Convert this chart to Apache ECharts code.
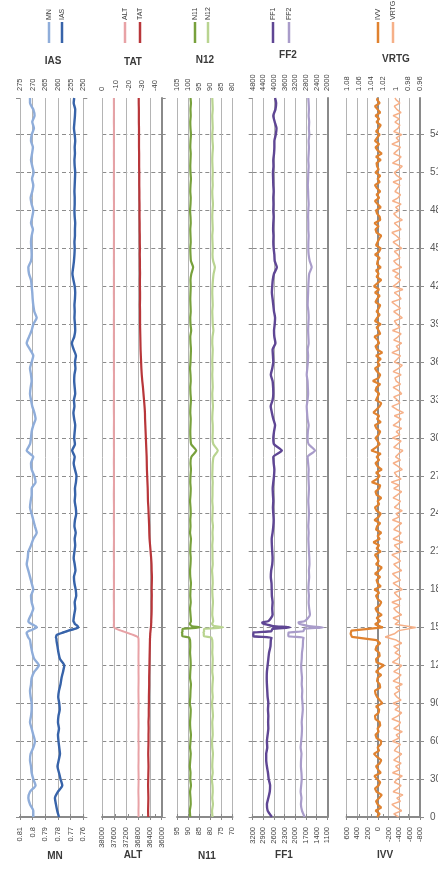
<!DOCTYPE html>
<html>
<head>
<meta charset="utf-8">
<script src="https://cdn.jsdelivr.net/npm/echarts@6/dist/echarts.min.js"></script>
<style>
  html, body { margin: 0; padding: 0; background: #ffffff; }
  #chart { width: 438px; height: 874px; }
</style>
</head>
<body>
<div id="chart"></div>
<script>
// Flight time of each sample (s) for the slower parameters
const TIME = [
  0, 50, 100, 150, 200, 250, 300, 350, 400, 450,
  500, 550, 600, 650, 700, 750, 800, 850, 900, 950,
  1000, 1050, 1100, 1150, 1200, 1250, 1300, 1350,
  1400, 1410, 1420, 1430, 1440, 1450, 1460, 1470, 1480, 1490, 1500, 1510, 1520, 1530, 1540, 1550,
  1600, 1650, 1700, 1750, 1800, 1850, 1900, 1950, 2000, 2050,
  2100, 2150, 2200, 2250, 2300, 2350, 2400, 2450, 2500, 2550,
  2600, 2650, 2700, 2750, 2800, 2850, 2900, 2950, 3000, 3050,
  3100, 3150, 3200, 3250, 3300, 3350, 3400, 3450, 3500, 3550,
  3600, 3650, 3700, 3750, 3800, 3850, 3900, 3950, 4000, 4050,
  4100, 4150, 4200, 4250, 4300, 4350, 4400, 4450, 4500, 4550,
  4600, 4650, 4700, 4750, 4800, 4850, 4900, 4950, 5000, 5050,
  5100, 5150, 5200, 5250, 5300, 5350, 5400, 5450, 5500, 5550,
  5600, 5650, 5690
];
// Flight time of each sample (s) for the fast vertical parameters
const TIME_FAST = [
  0, 25, 50, 75, 100, 125, 150, 175, 200, 225, 250, 275, 300, 325, 350, 375, 400, 425, 450, 475,
  500, 525, 550, 575, 600, 625, 650, 675, 700, 725, 750, 775, 800, 825, 850, 875, 900, 925, 950, 975,
  1000, 1025, 1050, 1075, 1100, 1125, 1150, 1175, 1200, 1225, 1250, 1275, 1300, 1325, 1350, 1375, 1400, 1425, 1450, 1475,
  1500, 1525, 1550, 1575, 1600, 1625, 1650, 1675, 1700, 1725, 1750, 1775, 1800, 1825, 1850, 1875, 1900, 1925, 1950, 1975,
  2000, 2025, 2050, 2075, 2100, 2125, 2150, 2175, 2200, 2225, 2250, 2275, 2300, 2325, 2350, 2375, 2400, 2425, 2450, 2475,
  2500, 2525, 2550, 2575, 2600, 2625, 2650, 2675, 2700, 2725, 2750, 2775, 2800, 2825, 2850, 2875, 2900, 2925, 2950, 2975,
  3000, 3025, 3050, 3075, 3100, 3125, 3150, 3175, 3200, 3225, 3250, 3275, 3300, 3325, 3350, 3375, 3400, 3425, 3450, 3475,
  3500, 3525, 3550, 3575, 3600, 3625, 3650, 3675, 3700, 3725, 3750, 3775, 3800, 3825, 3850, 3875, 3900, 3925, 3950, 3975,
  4000, 4025, 4050, 4075, 4100, 4125, 4150, 4175, 4200, 4225, 4250, 4275, 4300, 4325, 4350, 4375, 4400, 4425, 4450, 4475,
  4500, 4525, 4550, 4575, 4600, 4625, 4650, 4675, 4700, 4725, 4750, 4775, 4800, 4825, 4850, 4875, 4900, 4925, 4950, 4975,
  5000, 5025, 5050, 5075, 5100, 5125, 5150, 5175, 5200, 5225, 5250, 5275, 5300, 5325, 5350, 5375, 5400, 5425, 5450, 5475,
  5500, 5525, 5550, 5575, 5600, 5625, 5650, 5675, 5690
];

// Mach number
const MN = [
  0.7995, 0.7995, 0.8021, 0.8034, 0.8021, 0.7977, 0.7995, 0.8008, 0.8013, 0.8021,
  0.8016, 0.7995, 0.7982, 0.7995, 0.8008, 0.8021, 0.8013, 0.8008, 0.8008, 0.8016,
  0.8021, 0.8013, 0.8008, 0.7987, 0.7950, 0.7987, 0.8003, 0.8013,
  0.8021, 0.8026, 0.8034, 0.8039, 0.8042, 0.8047, 0.8047, 0.8034, 0.8008, 0.7987, 0.7968, 0.7976, 0.7995, 0.8013, 0.8029, 0.8034,
  0.8013, 0.7995, 0.8008, 0.8013, 0.7995, 0.8008, 0.8021, 0.8034, 0.8047, 0.8039,
  0.8034, 0.8013, 0.7995, 0.7968, 0.7982, 0.7995, 0.8008, 0.8021, 0.8016, 0.8008,
  0.8008, 0.7977, 0.7987, 0.8008, 0.8013, 0.7995, 0.8047, 0.8021, 0.8013, 0.8008,
  0.7995, 0.7977, 0.7987, 0.8003, 0.8013, 0.8021, 0.8016, 0.8008, 0.8013, 0.8021,
  0.8008, 0.7995, 0.8021, 0.8047, 0.8029, 0.8008, 0.7995, 0.7968, 0.7987, 0.7995,
  0.8000, 0.8003, 0.8008, 0.8013, 0.8029, 0.8034, 0.8013, 0.8008, 0.8010, 0.8013,
  0.8008, 0.7998, 0.8013, 0.8003, 0.7995, 0.8008, 0.8016, 0.8003, 0.7995, 0.8005,
  0.7992, 0.8003, 0.8013, 0.8005, 0.7998, 0.8013, 0.8008, 0.7990, 0.8003, 0.7985,
  0.7995, 0.8021, 0.8021
];
// Indicated airspeed (kt)
const IAS = [
  259.6, 260.3, 260.8, 261.2, 260.0, 258.3, 259.0, 259.6, 260.2, 259.7,
  259.2, 259.5, 259.8, 260.0, 259.6, 260.0, 259.8, 259.3, 259.5, 259.9,
  259.6, 259.0, 258.6, 258.0, 257.5, 259.2, 259.8, 260.2,
  260.6, 260.6, 260.8, 260.7, 260.5, 259.5, 258.0, 256.5, 255.0, 253.0, 252.0, 252.2, 252.8, 253.4, 253.6, 253.9,
  253.6, 253.2, 253.4, 252.8, 253.0, 253.5, 253.7, 253.1, 253.4, 253.8,
  253.5, 253.2, 253.4, 253.0, 253.5, 253.3, 252.8, 253.0, 253.4, 253.2,
  253.3, 252.9, 252.7, 253.3, 253.8, 253.4, 254.4, 253.3, 253.6, 253.4,
  253.2, 253.6, 253.9, 253.5, 253.7, 253.2, 253.4, 253.6, 253.5, 253.1,
  253.3, 252.9, 253.8, 254.5, 253.6, 253.2, 253.3, 253.5, 253.4, 253.5,
  253.3, 253.2, 253.4, 253.9, 254.3, 254.0, 253.7, 253.5, 253.4, 253.5,
  253.3, 253.3, 253.2, 253.4, 253.5, 253.4, 253.4, 253.5, 253.4, 253.3,
  253.2, 253.4, 253.5, 253.3, 253.4, 253.2, 253.4, 253.7, 253.5, 253.3,
  253.2, 253.8, 253.6
];
// Pressure altitude (ft)
const ALT = [
  36780, 36782, 36778, 36780, 36785, 36781, 36777, 36780, 36783, 36779,
  36780, 36776, 36781, 36784, 36780, 36778, 36782, 36780, 36777, 36781,
  36783, 36780, 36778, 36781, 36779, 36782, 36780, 36778,
  36780, 36781, 36790, 36840, 36950, 37070, 37190, 37310, 37430, 37540, 37605, 37615, 37612, 37610, 37608, 37611,
  37612, 37609, 37611, 37614, 37610, 37608, 37612, 37610, 37607, 37611,
  37613, 37610, 37608, 37611, 37609, 37612, 37610, 37608, 37611, 37613,
  37610, 37607, 37611, 37609, 37612, 37610, 37608, 37611, 37609, 37612,
  37610, 37608, 37611, 37613, 37610, 37609, 37612, 37610, 37607, 37611,
  37609, 37612, 37610, 37608, 37611, 37609, 37613, 37610, 37608, 37611,
  37610, 37612, 37609, 37611, 37608, 37610, 37612, 37609, 37611, 37610,
  37608, 37611, 37609, 37612, 37610, 37607, 37611, 37609, 37612, 37610,
  37611, 37608, 37610, 37612, 37609, 37611, 37610, 37608, 37612, 37610,
  37609, 37611, 37610
];
// Total air temperature (°C)
const TAT = [
  -34.8, -34.7, -34.8, -34.9, -34.8, -34.7, -34.8, -34.9, -35.0, -34.9,
  -34.8, -34.9, -35.0, -35.0, -35.1, -35.0, -35.2, -35.2, -35.3, -35.3,
  -35.4, -35.5, -35.5, -35.6, -35.7, -35.8, -35.9, -36.0,
  -36.1, -36.1, -36.2, -36.2, -36.3, -36.3, -36.4, -36.5, -36.6, -36.7, -36.8, -36.9, -37.0, -37.0, -37.1, -37.1,
  -37.3, -37.4, -37.4, -37.5, -37.4, -37.5, -37.6, -37.4, -37.3, -37.0,
  -36.6, -36.2, -35.8, -35.6, -35.5, -35.3, -35.1, -34.9, -34.6, -34.5,
  -34.4, -34.2, -34.0, -33.8, -33.7, -33.6, -33.4, -33.2, -33.0, -32.8,
  -32.6, -32.4, -32.3, -32.0, -31.6, -31.2, -30.8, -30.3, -29.9, -29.6,
  -29.4, -29.2, -29.0, -28.9, -28.8, -28.7, -28.6, -28.6, -28.6, -28.5,
  -28.6, -28.6, -28.5, -28.5, -28.6, -28.5, -28.5, -28.4, -28.5, -28.4,
  -28.4, -28.3, -28.3, -28.2, -28.2, -28.2, -28.1, -28.1, -28.0, -28.0,
  -28.0, -27.9, -27.9, -27.9, -27.8, -27.8, -27.8, -27.8, -27.7, -27.7,
  -27.7, -27.6, -27.6
];
// Engine 1 fan speed (%)
const N11 = [
  89.1, 89.3, 88.9, 89.0, 89.2, 88.8, 89.1, 89.0, 89.3, 89.1,
  88.9, 89.2, 89.0, 88.8, 89.1, 89.2, 89.0, 88.9, 89.3, 89.1,
  89.0, 88.8, 89.2, 89.1, 88.9, 89.0, 89.2, 89.1,
  89.2, 89.4, 89.6, 92.6, 92.8, 92.7, 92.9, 92.6, 92.7, 92.5, 84.8, 88.2, 89.0, 89.3, 89.0, 88.8,
  89.0, 89.2, 88.9, 89.1, 89.0, 88.8, 89.1, 89.2, 89.0, 88.9,
  89.1, 89.0, 88.8, 89.2, 89.0, 89.1, 88.9, 89.0, 89.2, 89.0,
  88.9, 89.1, 89.0, 88.8, 89.0, 88.6, 86.4, 88.7, 89.0, 89.1,
  89.0, 88.9, 89.1, 89.0, 88.8, 89.0, 89.1, 88.9, 89.0, 89.2,
  89.0, 88.9, 88.8, 89.0, 89.1, 88.7, 89.0, 89.1, 88.9, 89.0,
  89.1, 89.0, 88.9, 89.0, 88.6, 87.8, 88.8, 89.0, 89.1, 88.9,
  89.0, 89.1, 88.9, 89.0, 89.2, 89.0, 88.9, 89.1, 89.0, 88.8,
  89.0, 89.1, 89.0, 88.9, 89.1, 89.0, 88.8, 89.0, 89.1, 88.9,
  89.0, 88.8, 89.0
];
// Engine 2 fan speed (%)
const N12 = [
  89.0, 89.2, 88.8, 89.1, 88.9, 89.0, 89.3, 88.9, 89.1, 89.0,
  88.8, 89.1, 89.2, 88.9, 89.0, 89.1, 88.8, 89.0, 89.2, 88.9,
  89.1, 89.0, 88.8, 89.1, 89.0, 88.9, 89.1, 89.0,
  89.1, 89.3, 89.5, 92.8, 93.0, 92.9, 93.1, 92.8, 92.9, 92.7, 84.2, 88.0, 88.9, 89.2, 88.9, 88.7,
  89.1, 89.0, 88.8, 89.0, 89.1, 88.9, 89.0, 89.2, 88.9, 89.0,
  89.0, 89.1, 88.9, 89.0, 88.8, 89.1, 89.0, 88.9, 89.1, 89.0,
  89.0, 88.9, 89.1, 89.0, 88.9, 88.5, 86.6, 88.6, 89.0, 88.9,
  88.9, 89.1, 89.0, 88.8, 89.0, 89.1, 88.9, 89.0, 89.1, 89.0,
  89.1, 89.0, 88.9, 89.1, 89.0, 88.6, 88.9, 89.0, 89.1, 88.9,
  89.0, 89.1, 89.0, 88.8, 88.5, 87.9, 88.7, 89.0, 88.9, 89.0,
  89.1, 88.9, 89.0, 89.1, 89.0, 88.8, 89.0, 89.1, 88.9, 89.0,
  88.9, 89.0, 89.1, 89.0, 88.8, 89.0, 89.1, 88.9, 89.0, 89.1,
  88.9, 89.0, 89.1
];
// Engine 1 fuel flow (kg/h)
const FF1 = [
  2660, 2780, 2800, 2760, 2720, 2710, 2750, 2770, 2800, 2820,
  2820, 2790, 2800, 2780, 2760, 2765, 2760, 2770, 2760, 2780,
  2790, 2800, 2805, 2800, 2780, 2760, 2740, 2700,
  2690, 2680, 2670, 3180, 3185, 3180, 3175, 2680, 2660, 2640, 2150, 2620, 2760, 2900, 2930, 2760,
  2640, 2650, 2640, 2660, 2665, 2670, 2690, 2680, 2650, 2640,
  2650, 2660, 2665, 2640, 2620, 2610, 2620, 2630, 2620, 2630,
  2637, 2620, 2600, 2590, 2610, 2620, 2380, 2600, 2620, 2600,
  2570, 2620, 2660, 2693, 2640, 2620, 2625, 2640, 2690, 2650,
  2620, 2630, 2640, 2560, 2590, 2600, 2580, 2570, 2600, 2620,
  2640, 2660, 2650, 2635, 2600, 2520, 2580, 2590, 2610, 2620,
  2615, 2625, 2620, 2610, 2620, 2615, 2620, 2610, 2620, 2625,
  2630, 2615, 2620, 2600, 2590, 2590, 2550, 2530, 2580, 2620,
  2560, 2540, 2570
];
// Engine 2 fuel flow (kg/h)
const FF2 = [
  2850, 2950, 2990, 2970, 3000, 2980, 2960, 2970, 2990, 2985,
  2970, 3000, 2980, 2960, 2950, 2960, 2940, 2920, 2930, 2950,
  2940, 2960, 2950, 2970, 2980, 2960, 2950, 2920,
  2910, 2900, 2890, 3460, 3465, 3460, 3455, 2900, 2880, 2860, 2150, 2700, 2900, 3050, 3080, 2850,
  2650, 2680, 2700, 2690, 2710, 2700, 2680, 2690, 2670, 2676,
  2690, 2700, 2710, 2700, 2713, 2700, 2690, 2700, 2713, 2700,
  2690, 2700, 2710, 2700, 2720, 2740, 2460, 2700, 2740, 2730,
  2700, 2740, 2760, 2773, 2740, 2720, 2730, 2740, 2773, 2750,
  2730, 2720, 2736, 2700, 2710, 2720, 2713, 2700, 2710, 2736,
  2730, 2720, 2713, 2700, 2680, 2586, 2660, 2700, 2713, 2710,
  2700, 2713, 2713, 2720, 2713, 2700, 2713, 2720, 2730, 2720,
  2713, 2700, 2713, 2700, 2690, 2700, 2676, 2690, 2680, 2700,
  2690, 2700, 2713
];
// Inertial vertical velocity (ft/min), sampled on TIME_FAST
const IVV = [
  20, -30, 50, -60, 10, 40, -20, -70, 30, 60, -10, -40, 20, 70, -50, 0, 40, -30, -60, 20,
  80, -20, 10, -50, -60, 30, 50, -10, 10, -40, -30, 50, 60, -10, -20, 40, -80, -30, 20, 50,
  60, -40, -30, 20, 10, -60, 40, -20, -110, 30, 40, -30, -20, 50, 30, -40, 30, 500, 525, 510,
  -90, 60, -40, 30, -70, 20, 50, -30, -60, 10, 40, -20, 70, -50, 10, 30, -40, 60, -20, -70,
  40, -10, 20, 60, -50, 30, -20, 90, -30, 10, -60, 40, 20, -40, 70, -10, -50, 30, 60, -20,
  10, -60, 30, 50, -20, -40, 120, 20, -30, 40, -70, 10, 50, -20, 30, -50, 130, 40, -30, 10,
  50, -10, -40, 30, 60, -50, 20, -20, 90, 30, -30, -60, 40, 10, -20, 50, 30, -40, 100, -10,
  -40, 20, 60, -30, 10, -50, 40, -80, 20, 50, -20, 10, 70, -40, -10, 30, -50, 60, 20, -30,
  30, -10, -40, 50, 20, -30, 60, -20, 80, 10, -60, 30, -10, 40, -50, 20, 10, -30, 60, -20,
  -50, 40, 10, -20, -60, 30, 50, -10, 70, -40, -30, 20, 40, -50, 10, 60, -20, 30, -40, 20,
  60, -30, 10, -40, 50, -10, 20, 30, -50, 40, -70, 10, 50, -20, 60, 20, -30, 40, -10, -50,
  30, -20, 50, -40, 10, 60, -30, 20, 10
];
// Vertical acceleration (g), sampled on TIME_FAST
const VRTG = [
  0.995, 1.003, 0.990, 0.999, 1.006, 0.992, 0.998, 0.988, 1.004, 0.996, 0.991, 1.002, 0.997, 0.989, 1.005, 0.993, 1.000, 0.991, 1.003, 0.996,
  0.990, 1.002, 0.998, 0.992, 1.005, 0.994, 0.999, 0.989, 1.003, 0.995, 0.992, 1.006, 0.996, 0.990, 1.001, 0.994, 1.004, 0.991, 0.998, 1.002,
  0.993, 1.000, 0.989, 1.004, 0.996, 0.991, 1.003, 0.995, 0.990, 1.005, 0.997, 0.992, 1.001, 0.994, 1.003, 0.990, 0.999, 1.017, 1.002, 0.995,
  0.967, 1.001, 0.994, 1.004, 0.990, 0.998, 1.003, 0.993, 1.006, 0.991, 0.997, 1.002, 0.989, 0.996, 1.004, 0.992, 0.999, 1.005, 0.990, 0.997,
  1.003, 0.992, 0.998, 1.006, 0.991, 0.996, 1.002, 0.988, 1.004, 0.995, 0.991, 1.003, 0.997, 0.990, 1.005, 0.994, 0.999, 0.989, 1.002, 0.996,
  0.992, 1.004, 0.997, 0.990, 1.003, 0.994, 1.007, 0.991, 0.998, 1.002, 0.989, 0.996, 1.004, 0.992, 1.000, 0.995, 0.988, 1.003, 0.997, 0.991,
  1.005, 0.993, 0.999, 0.990, 1.004, 0.996, 0.991, 1.002, 0.987, 0.998, 1.006, 0.993, 0.997, 1.003, 0.990, 0.995, 1.004, 0.992, 0.999, 1.001,
  0.991, 1.004, 0.995, 0.989, 1.002, 0.997, 0.992, 1.006, 0.994, 0.999, 0.990, 1.003, 0.996, 0.991, 1.005, 0.993, 0.998, 1.002, 0.989, 0.996,
  1.003, 0.992, 0.999, 1.006, 0.991, 0.995, 1.002, 0.988, 1.004, 0.997, 0.992, 1.001, 0.995, 1.005, 0.990, 0.998, 1.003, 0.993, 0.996, 1.002,
  0.990, 0.997, 1.004, 0.993, 0.999, 1.006, 0.991, 0.996, 1.002, 0.989, 0.998, 1.003, 0.994, 1.000, 0.991, 1.005, 0.996, 0.992, 1.001, 0.997,
  0.993, 1.004, 0.990, 0.998, 1.002, 0.995, 0.989, 1.005, 0.996, 0.991, 1.003, 0.997, 0.992, 1.006, 0.994, 0.999, 0.990, 1.003, 0.996, 0.993,
  1.001, 0.994, 1.004, 0.991, 0.998, 1.002, 0.993, 0.999, 1.001
];

const FONT = 'Liberation Sans';
const TEXT = '#404040';
const FRAME = '#8a8a8a';
const GRIDLINE = '#b4b4b4';
const TOP = 98, BOTTOM = 817, TIME_MAX = 5690, TIME_STEP = 300;

const num = v => String(+v.toFixed(2));

// Five tracks, each with a top-axis and a bottom-axis parameter
const panels = [
  { l: 20, r: 83.3, titleTop: [53, 61], titleBot: [55, 856], edgeL: false, edgeR: false, tickL: true, tickR: true,
    top: { name: 'IAS', time: TIME, data: IAS, color: '#3763a9', width: 2.4, min: 250, max: 275, interval: 5 },
    bot: { name: 'MN', time: TIME, data: MN, color: '#8fadda', width: 2.4, min: 0.76, max: 0.81, interval: 0.01 },
    legend: [['MN', 49, '#8fadda'], ['IAS', 62, '#3763a9']] },
  { l: 102.3, r: 161.7, titleTop: [133, 62], titleBot: [133, 855], edgeL: false, edgeR: true, tickL: false, tickR: true,
    top: { name: 'TAT', time: TIME, data: TAT, color: '#b8363a', width: 2.2, min: -45, max: 0, custom: [-40, -30, -20, -10, 0] },
    bot: { name: 'ALT', time: TIME, data: ALT, color: '#e8a2a6', width: 2, min: 36000, max: 38000, interval: 400 },
    legend: [['ALT', 125, '#e8a2a6'], ['TAT', 140, '#b8363a']] },
  { l: 177.3, r: 232.3, titleTop: [205, 60], titleBot: [207, 856], edgeL: false, edgeR: false, tickL: false, tickR: false,
    top: { name: 'N12', time: TIME, data: N12, color: '#b9d490', width: 2.2, min: 80, max: 105, interval: 5 },
    bot: { name: 'N11', time: TIME, data: N11, color: '#78a13c', width: 2.2, min: 70, max: 95, interval: 5 },
    legend: [['N11', 195, '#78a13c'], ['N12', 208, '#b9d490']] },
  { l: 252.7, r: 327.3, titleTop: [288, 55], titleBot: [284, 855], edgeL: false, edgeR: true, tickL: true, tickR: false,
    top: { name: 'FF2', time: TIME, data: FF2, color: '#a99cca', width: 2.2, min: 2000, max: 4800, interval: 400 },
    bot: { name: 'FF1', time: TIME, data: FF1, color: '#5f4694', width: 2.4, min: 1100, max: 3200, interval: 300 },
    legend: [['FF1', 273, '#5f4694'], ['FF2', 289, '#a99cca']] },
  { l: 346.7, r: 420, titleTop: [396, 59], titleBot: [385, 855], edgeL: true, edgeR: true, tickL: false, tickR: true,
    top: { name: 'VRTG', time: TIME_FAST, data: VRTG, color: '#f6b088', width: 1.5, min: 0.96, max: 1.08, interval: 0.02 },
    bot: { name: 'IVV', time: TIME_FAST, data: IVV, color: '#e0822f', width: 2.2, min: -800, max: 600, interval: 200 },
    legend: [['IVV', 378, '#e0822f'], ['VRTG', 393, '#f6b088']] }
];

const grid = [], xAxis = [], yAxis = [], series = [], graphic = [];

panels.forEach((p, i) => {
  grid.push({ left: p.l, top: TOP, width: p.r - p.l, height: BOTTOM - TOP,
    containLabel: false, outerBoundsMode: 'none' });

  const makeX = (ax, pos) => {
    const o = {
      type: 'value', gridIndex: i, position: pos, inverse: true,
      min: ax.min, max: ax.max,
      axisLine: { show: true, lineStyle: { color: FRAME, width: 2 } },
      axisTick: { show: true, length: 3, lineStyle: { color: FRAME } },
      axisLabel: {
        show: true, rotate: 90, fontFamily: FONT, fontSize: 7.5, color: TEXT,
        margin: pos === 'top' ? 7 : 10, formatter: num
      },
      splitLine: { show: pos === 'bottom', lineStyle: { color: GRIDLINE, width: 1 } }
    };
    if (ax.custom) {
      o.axisLabel.customValues = ax.custom;
      o.axisTick.customValues = ax.custom;
    } else {
      o.interval = ax.interval;
    }
    return o;
  };
  xAxis.push(makeX(p.top, 'top'));
  xAxis.push(makeX(p.bot, 'bottom'));

  const last = i === panels.length - 1;
  const makeY = (side, edge, tick, labels) => ({
    type: 'value', gridIndex: i, position: side, min: 0, max: TIME_MAX, interval: TIME_STEP,
    axisLine: { show: edge, lineStyle: { color: FRAME, width: 2 } },
    axisTick: { show: tick, length: 4, lineStyle: { color: '#8c8c8c' } },
    axisLabel: {
      show: labels, showMaxLabel: false, margin: 10, align: 'left',
      fontFamily: FONT, fontSize: 10, color: '#595959', formatter: v => String(v)
    },
    splitLine: {
      show: side === 'left', showMaxLine: false,
      lineStyle: { color: '#8c8c8c', width: 1, type: [4, 3] }
    }
  });
  yAxis.push(makeY('left', p.edgeL, p.tickL, false));
  yAxis.push(makeY('right', p.edgeR, p.tickR, last));

  [[p.top, 2 * i], [p.bot, 2 * i + 1]].forEach(([ax, xi]) => {
    series.push({
      name: ax.name, type: 'line', xAxisIndex: xi, yAxisIndex: 2 * i,
      data: ax.time.map((t, k) => [ax.data[k], t]),
      showSymbol: false, symbol: 'none', smooth: ax.time === TIME ? 0.2 : false,
      lineStyle: { color: ax.color, width: ax.width },
      itemStyle: { color: ax.color }, animation: false
    });
  });

  // track titles
  graphic.push({ type: 'text', x: p.titleTop[0], y: p.titleTop[1],
    style: { text: p.top.name, fontFamily: FONT, fontSize: 10, fontWeight: 'bold', fill: '#3a3a3a',
      textAlign: 'center', textVerticalAlign: 'middle' } });
  graphic.push({ type: 'text', x: p.titleBot[0], y: p.titleBot[1],
    style: { text: p.bot.name, fontFamily: FONT, fontSize: 10, fontWeight: 'bold', fill: '#3a3a3a',
      textAlign: 'center', textVerticalAlign: 'middle' } });

  // legend keys: short vertical stroke with rotated name above it
  p.legend.forEach(([name, x, color]) => {
    graphic.push({ type: 'line', shape: { x1: x, y1: 22, x2: x, y2: 43 },
      style: { stroke: color, lineWidth: 2.5 } });
    graphic.push({ type: 'text', x: x, y: 20, rotation: Math.PI / 2,
      style: { text: name, fontFamily: FONT, fontSize: 7, fill: TEXT,
        textAlign: 'left', textVerticalAlign: 'middle' } });
  });
});

const chart = echarts.init(document.getElementById('chart'), null, { renderer: 'canvas' });
chart.setOption({
  animation: false,
  backgroundColor: '#ffffff',
  grid, xAxis, yAxis, series, graphic
});
</script>
</body>
</html>
